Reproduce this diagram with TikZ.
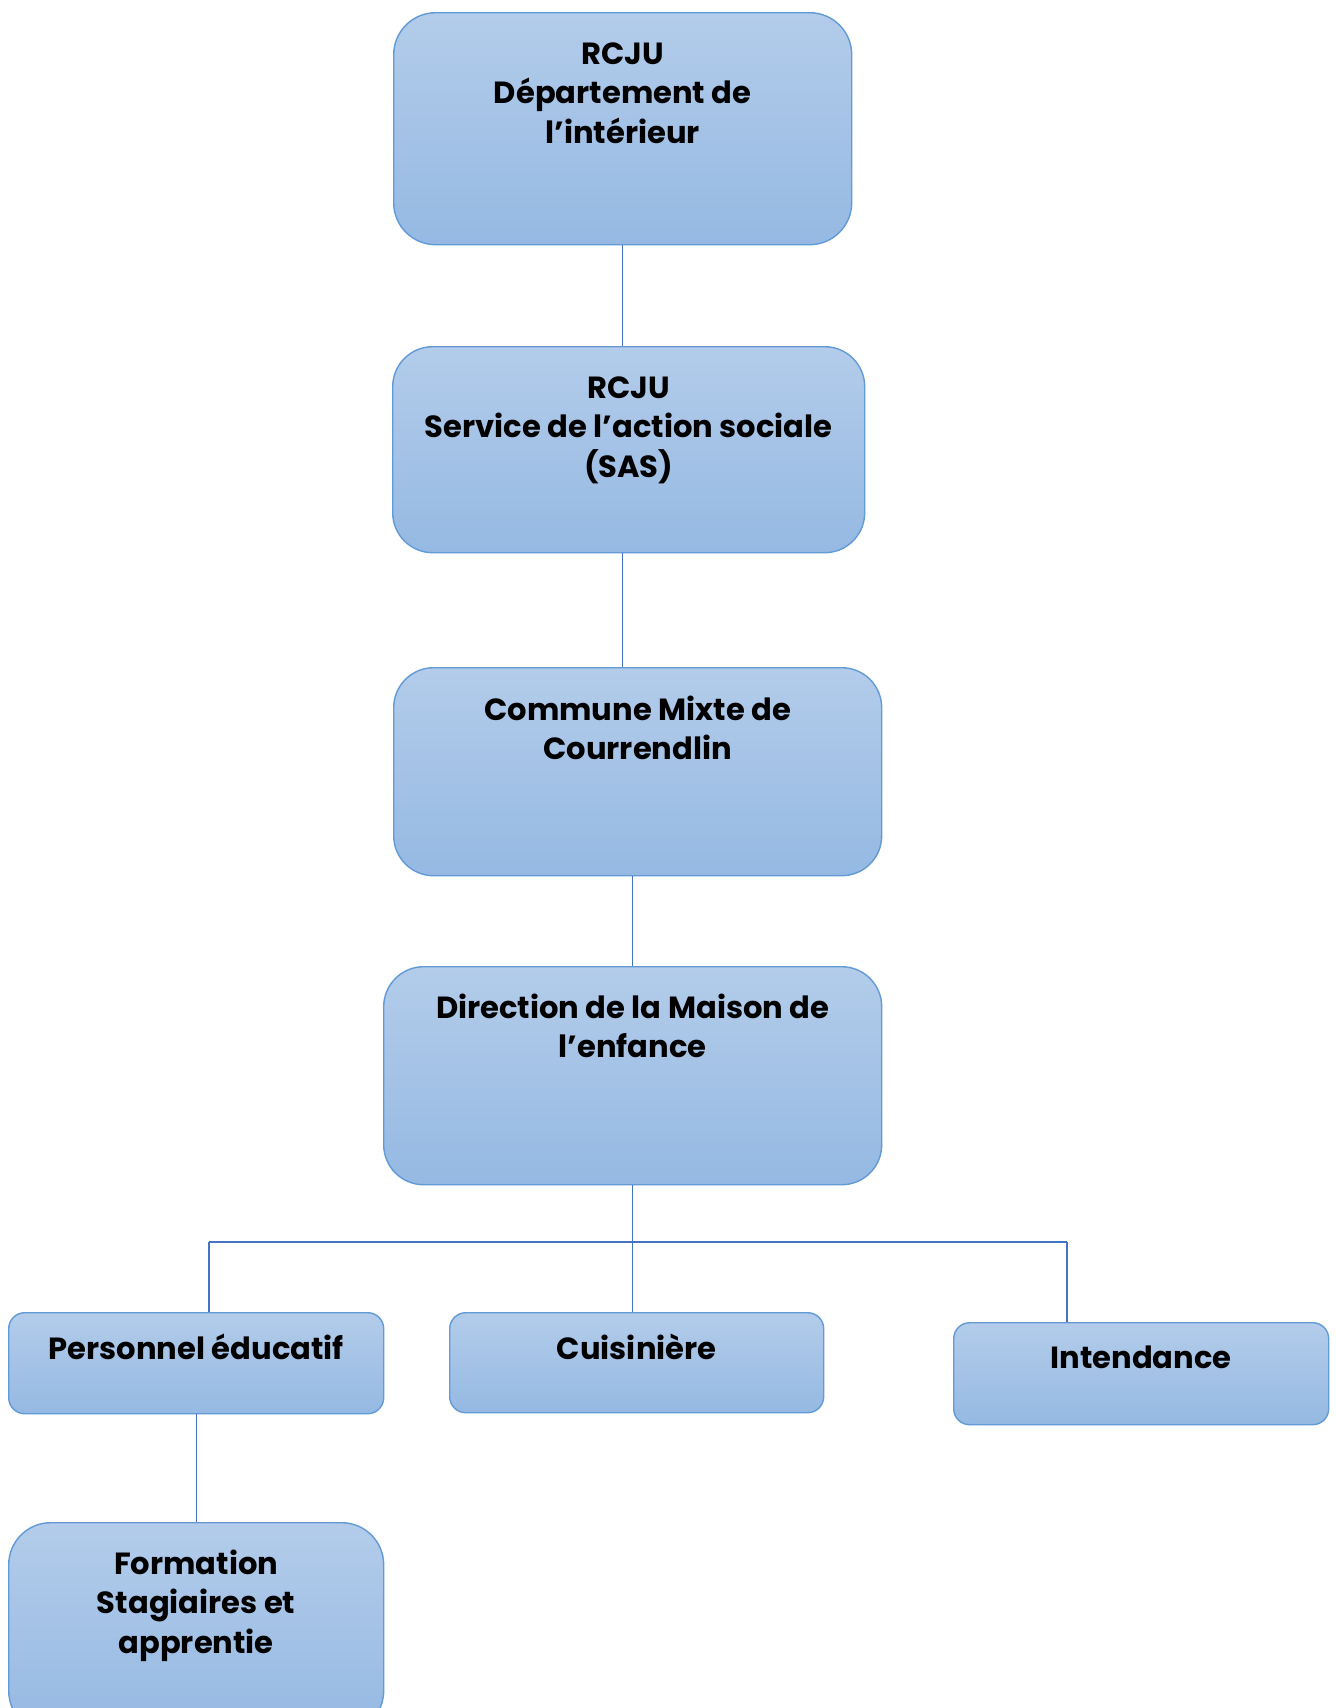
\documentclass[tikz,border=0pt]{standalone}
\usepackage{fontspec}
\setmainfont{Poppins}
\definecolor{boxtop}{RGB}{179,204,234}
\definecolor{boxbot}{RGB}{149,185,227}
\definecolor{boxrim}{RGB}{98,154,214}
\definecolor{linkcol}{RGB}{68,114,196}
\begin{document}
\begin{tikzpicture}[x=0.5pt,y=-0.5pt,
  box/.style={rectangle, anchor=north west, draw=boxrim, line width=0.7pt,
    top color=boxtop, bottom color=boxbot, inner sep=0pt},
  lbl/.style={anchor=base, align=center, inner sep=0pt,
    font=\bfseries\fontsize{15.3}{19.75}\selectfont},
  link/.style={draw=linkcol, line width=0.7pt}]

\useasboundingbox (0,0) rectangle (1335,1708);

% niveaux superieurs
\node[box, rounded corners=21pt, minimum width=229pt, minimum height=116pt] (rcju) at (393,12) {};
\node[box, rounded corners=20pt, minimum width=236pt, minimum height=103pt] (sas) at (392,346) {};
\node[box, rounded corners=20pt, minimum width=244pt, minimum height=104pt] (commune) at (393,667) {};
\node[box, rounded corners=20pt, minimum width=249pt, minimum height=109pt] (direction) at (383,966) {};

% equipe
\node[box, rounded corners=8pt, minimum width=187.5pt, minimum height=50.5pt] (perso) at (8,1312) {};
\node[box, rounded corners=8pt, minimum width=187pt, minimum height=50pt] (cuisine) at (449,1312) {};
\node[box, rounded corners=8pt, minimum width=187.5pt, minimum height=51pt] (intend) at (953,1322) {};
\node[box, rounded corners=21pt, minimum width=187.5pt, minimum height=105pt] (formation) at (8,1522) {};

% textes (ancre base = derniere ligne)
\node[lbl] (trcju) at ([yshift=-65.5pt]rcju.north) {RCJU\\Département de\\l’intérieur};
\node[lbl] (tsas) at ([yshift=-65.5pt]sas.north) {RCJU\\Service de l’action sociale\\(SAS)};
\node[lbl] (tcommune) at ([yshift=-46.25pt]commune.north) {Commune Mixte de\\Courrendlin};
\node[lbl] (tdirection) at ([yshift=-45.75pt]direction.north) {Direction de la Maison de\\l’enfance};
\node[lbl] (tperso) at ([yshift=-23.5pt]perso.north) {Personnel éducatif};
\node[lbl] (tcuisine) at ([yshift=-23.5pt]cuisine.north) {Cuisinière};
\node[lbl] (tintend) at ([yshift=-23pt]intend.north) {Intendance};
\node[lbl] (tformation) at ([yshift=-65.5pt]formation.north) {Formation\\Stagiaires et\\apprentie};

% liaisons
\coordinate (busL) at (209,1242);
\coordinate (busR) at (1067,1242);
\draw[link] (rcju.south) -- (rcju.south |- sas.north);
\draw[link] (rcju.south |- sas.south) -- (rcju.south |- commune.north);
\draw[link] (direction.north |- commune.south) -- (direction.north);
\draw[link] (direction.south) -- (direction.south |- cuisine.north);
\draw[link] (busL) -- (busR);
\draw[link] (busL) -- (busL |- perso.north);
\draw[link] (busR) -- (busR |- intend.north);
\draw[link] (perso.south) -- (formation.north);

\end{tikzpicture}
\end{document}
